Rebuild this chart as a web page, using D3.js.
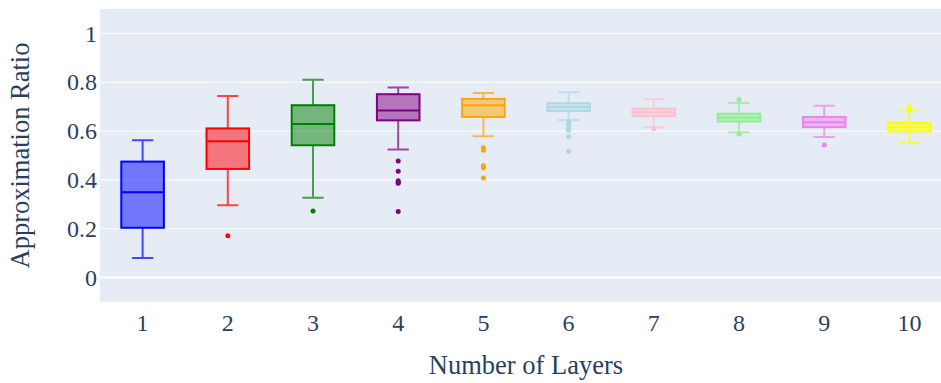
<!DOCTYPE html>
<html>
<head>
<meta charset="utf-8">
<script src="https://cdn.jsdelivr.net/npm/d3@7"></script>
<style>
  body { margin: 0; background: #fff; }
  svg { display: block; font-family: "Liberation Serif", "DejaVu Serif", serif; }
  .axis text { fill: #2a3f5f; font-family: "Liberation Serif", "DejaVu Serif", serif; }
</style>
</head>
<body>
<div id="chart"></div>
<script>
// categories
const layers = ["1", "2", "3", "4", "5", "6", "7", "8", "9", "10"];
// box statistics
const lowerFence = [0.080, 0.296, 0.327, 0.525, 0.579, 0.645, 0.616, 0.595, 0.576, 0.552];
const q1         = [0.204, 0.445, 0.542, 0.644, 0.658, 0.682, 0.661, 0.639, 0.616, 0.599];
const median     = [0.350, 0.558, 0.629, 0.684, 0.706, 0.699, 0.677, 0.655, 0.636, 0.616];
const q3         = [0.475, 0.611, 0.706, 0.751, 0.732, 0.714, 0.692, 0.671, 0.658, 0.634];
const upperFence = [0.562, 0.744, 0.810, 0.779, 0.756, 0.759, 0.730, 0.715, 0.704, 0.684];
const outliers = [
  [],
  [0.171],
  [0.273],
  [0.477, 0.435, 0.397, 0.390, 0.386, 0.271],
  [0.532, 0.521, 0.458, 0.450, 0.408],
  [0.636, 0.625, 0.611, 0.603, 0.577, 0.517],
  [0.610],
  [0.729, 0.588],
  [0.543],
  [0.700, 0.692]
];
const colors = ["blue", "red", "green", "purple", "orange", "lightblue", "pink", "lightgreen", "violet", "yellow"];
const yTicks = [0, 0.2, 0.4, 0.6, 0.8, 1];

const svg_width = 941, svg_height = 383;
const margin = {top: 9, left: 100};
const plot_width = 852, plot_height = 293;

const svg = d3.select('#chart').append('svg')
  .attr('width', svg_width).attr('height', svg_height);

const g = svg.append('g').attr('transform', `translate(${margin.left},${margin.top})`);

const xScale = d3.scaleBand().domain(layers).range([0, plot_width]);
const yScale = d3.scaleLinear().domain([-0.1, 1.1]).range([plot_height, 0]);

// background
g.append('rect').attr('width', plot_width).attr('height', plot_height).style('fill', '#e5ecf6');

// gridlines
g.selectAll('.grid').data(yTicks).enter().append('line')
  .attr('x1', 0).attr('x2', plot_width)
  .attr('y1', d => yScale(d)).attr('y2', d => yScale(d))
  .style('stroke', '#fff').style('stroke-width', d => d === 0 ? 2 : 1);

// y axis
const yAxis = d3.axisLeft(yScale).tickValues(yTicks).tickSize(0).tickPadding(3)
  .tickFormat(d => d3.format('~g')(d));
const yAxisDraw = g.append('g').attr('class', 'axis').call(yAxis).attr('font-family', null);
yAxisDraw.select('.domain').remove();
yAxisDraw.selectAll('text').style('font-size', '24px');

// x axis
const xAxis = d3.axisBottom(xScale).tickSize(0).tickPadding(12);
const xAxisDraw = g.append('g').attr('class', 'axis')
  .attr('transform', `translate(0,${plot_height})`).call(xAxis).attr('font-family', null);
xAxisDraw.select('.domain').remove();
xAxisDraw.selectAll('text').style('font-size', '24px');

// axis titles
svg.append('text').attr('class', 'title')
  .attr('x', margin.left + plot_width / 2).attr('y', 374)
  .attr('text-anchor', 'middle').style('font-size', '26.5px').style('fill', '#2a3f5f')
  .text('Number of Layers');
svg.append('text')
  .attr('transform', `translate(29,${margin.top + plot_height / 2}) rotate(-90)`)
  .attr('text-anchor', 'middle').style('font-size', '26.5px').style('fill', '#2a3f5f')
  .text('Approximation Ratio');

// boxes
const boxData = layers.map((l, i) => ({
  layer: l, lo: lowerFence[i], q1: q1[i], med: median[i], q3: q3[i], hi: upperFence[i],
  out: outliers[i], color: colors[i]
}));
const boxW = xScale.bandwidth() * 0.5;
const capW = boxW * 0.5;

const boxes = g.selectAll('.box').data(boxData).enter().append('g')
  .attr('class', 'box')
  .attr('transform', d => `translate(${xScale(d.layer) + xScale.bandwidth() / 2},0)`);

boxes.append('path')
  .attr('d', d => {
    const yl = yScale(d.lo), yh = yScale(d.hi), y1 = yScale(d.q1), y3 = yScale(d.q3);
    return `M0,${y1}V${yl}M${-capW / 2},${yl}H${capW / 2}` +
           `M0,${y3}V${yh}M${-capW / 2},${yh}H${capW / 2}`;
  })
  .style('fill', 'none').style('stroke', d => d.color).style('stroke-width', 2)
  .style('stroke-opacity', 0.7);

boxes.append('rect')
  .attr('x', -boxW / 2).attr('width', boxW)
  .attr('y', d => yScale(d.q3)).attr('height', d => yScale(d.q1) - yScale(d.q3))
  .style('fill', d => d3.color(d.color).copy({opacity: 0.5}))
  .style('stroke', d => d.color).style('stroke-width', 2);

boxes.append('line')
  .attr('x1', -boxW / 2).attr('x2', boxW / 2)
  .attr('y1', d => yScale(d.med)).attr('y2', d => yScale(d.med))
  .style('stroke', d => d.color).style('stroke-width', 2);

boxes.selectAll('.pt').data(d => d.out.map(v => ({v, color: d.color}))).enter()
  .append('circle').attr('class', 'pt')
  .attr('cx', 0).attr('cy', d => yScale(d.v)).attr('r', 2.5)
  .style('fill', d => d.color);
</script>
</body>
</html>
